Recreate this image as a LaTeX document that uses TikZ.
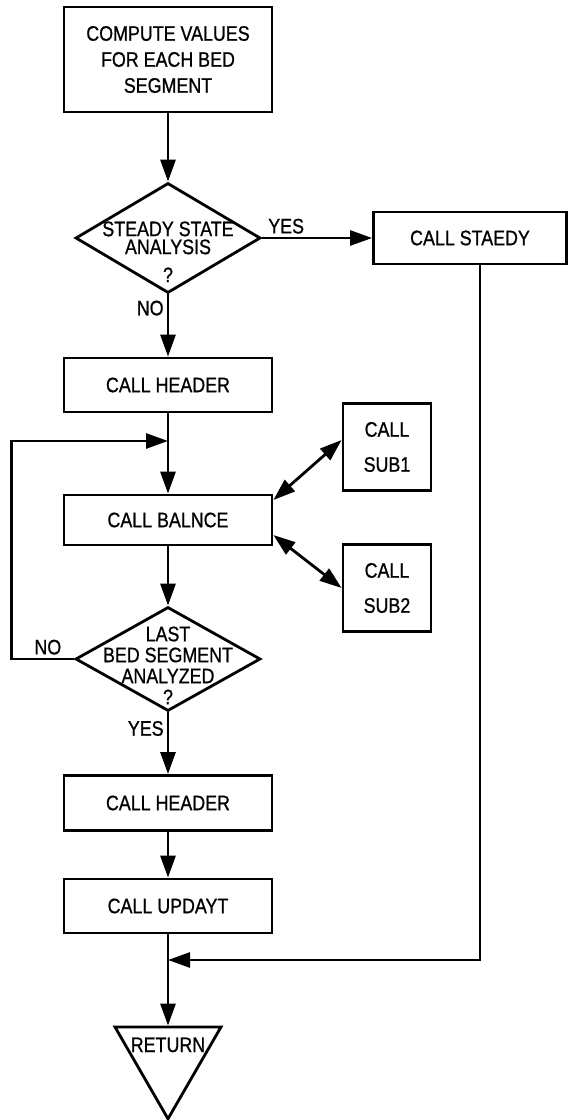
\documentclass[tikz,border=0pt]{standalone}
\usepackage{fontspec}
\setmainfont{Liberation Sans}[FakeStretch=0.85, FakeBold=0.8]
\usetikzlibrary{shapes.geometric, positioning, arrows.meta}

% text of a decision box, kept out of the shape size
\newcommand{\dtxt}[2][0pt]{\raisebox{#1}[0pt][0pt]{\makebox[0pt]{\begin{tabular}{@{}c@{}}#2\end{tabular}}}}

\begin{document}
\begin{tikzpicture}[on grid, >={Triangle[length=11pt,width=7.5pt]},
    line width=1.4pt,
    font=\fontsize{10.5}{13}\selectfont,
    box/.style={draw, rectangle, align=center, minimum width=104pt, minimum height=27pt, inner sep=0pt},
    subbox/.style={box, minimum width=44pt, minimum height=43.5pt},
    decision/.style={draw, diamond, minimum width=92.5pt, minimum height=55pt, inner sep=0pt},
    lbl/.style={inner sep=1.5pt}]

    \useasboundingbox (0,0) rectangle (286pt,-560pt);

    % Main column
    \node[box, minimum height=52.5pt] (comp) at (84pt,-29.75pt) {COMPUTE VALUES\\FOR EACH BED\\SEGMENT};
    \node[decision] (steady) [below=89.25pt of comp] {\dtxt[-10.7pt]{STEADY STATE\\[-4pt] ANALYSIS\\[1pt] ?}};
    \node[box, minimum width=96.5pt, minimum height=26pt] (staedy) [right=151pt of steady] {CALL STAEDY};
    \node[box] (head1) [below=73.5pt of steady] {CALL HEADER};
    \node[box, minimum height=25pt] (balnce) [below=67.5pt of head1] {CALL BALNCE};
    \node[subbox] (sub1) [above right=36.5pt and 109.5pt of balnce] {\raisebox{-3pt}{CALL}\\[4.5pt]\raisebox{-3pt}{SUB1}};
    \node[subbox] (sub2) [below right=34pt and 109.5pt of balnce] {\raisebox{-3pt}{CALL}\\[4.5pt]\raisebox{-3pt}{SUB2}};
    \node[decision, minimum height=52pt] (last) [below=69.5pt of balnce] {\dtxt[-7pt]{LAST\\[-2.5pt] BED SEGMENT\\[-2.5pt] ANALYZED\\[-2.5pt] ?}};
    \node[box, minimum height=27.5pt] (head2) [below=72pt of last] {CALL HEADER};
    \node[box] (updayt) [below=51.5pt of head2] {CALL UPDAYT};
    \node[draw, regular polygon, regular polygon sides=3, shape border rotate=180, minimum size=61.2pt, inner sep=0pt] (ret) [below=75.8pt of updayt] {\raisebox{2.8pt}[0pt][0pt]{\makebox[0pt]{RETURN}}};

    % Junctions
    \coordinate[below=28pt of head1] (jn);
    \coordinate[below=27pt of updayt] (mrg);

    \draw[->] (comp) -- (steady);
    \draw[->] (steady) -- node[lbl, above, pos=0.22] {YES} (staedy);
    \draw[->] (steady) -- node[lbl, left, pos=0.22] {NO} (head1);
    \draw[->] (head1) -- (balnce);
    \draw[<->] ([yshift=10pt]balnce.east) -- ([yshift=3.5pt]sub1.west);
    \draw[<->] ([yshift=-7.5pt]balnce.east) -- (sub2.west);
    \draw[->] (balnce) -- (last);

    % Loop back with NO
    \draw[->] (last.west) -- node[lbl, above, pos=0.42] {NO} ++(-31.25pt,0) |- (jn);

    \draw[->] (last) -- node[lbl, left, pos=0.26] {YES} (head2);
    \draw[->] (head2) -- (updayt);
    \draw[->] (updayt) -- (ret);
    \draw[->] ([xshift=5pt]staedy.south) |- (mrg);
\end{tikzpicture}
\end{document}
